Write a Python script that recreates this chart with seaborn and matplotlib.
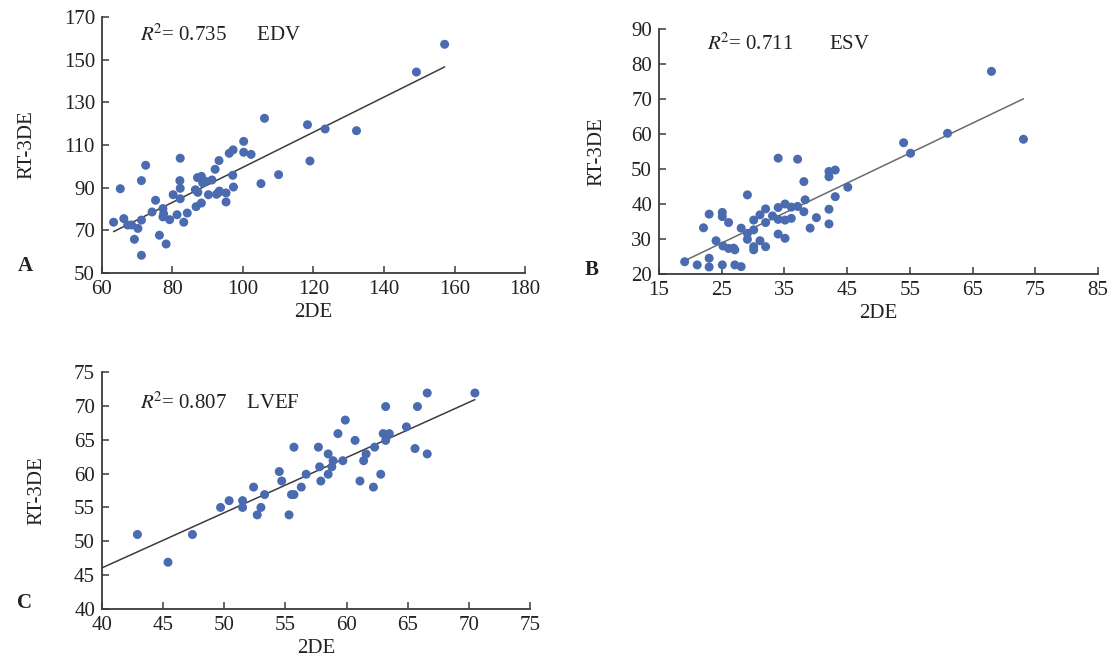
import numpy as np
import pandas as pd
import matplotlib
matplotlib.use("Agg")
import matplotlib.pyplot as plt
import seaborn as sns

# ---- Data ----
edv_2de = [63.3, 65.2, 66.2, 67.3, 68.4, 69.2, 70.2, 71.2, 71.2, 71.2, 72.4, 74.2, 75.2, 76.3,
           77.3, 77.5, 77.3, 78.2, 79.2, 80.2, 81.3, 82.2, 82.1, 82.2, 82.2, 83.2, 84.2, 86.5,
           86.7, 87.1, 87.2, 88.2, 88.2, 88.6, 89.3, 90.2, 91.2, 92.1, 92.5, 93.1, 93.2, 93.3,
           95.2, 95.2, 96.1, 97.2, 97.1, 97.3, 100.2, 100.2, 102.3, 105.1, 106.1, 110.1, 118.3,
           119.0, 123.3, 132.2, 149.2, 157.2]
edv_rt3de = [73.8, 89.5, 75.5, 72.5, 72.5, 65.8, 70.9, 58.3, 74.8, 93.3, 100.5, 78.6, 84.1, 67.7,
             80.2, 77.7, 76.3, 63.6, 75.0, 86.7, 77.3, 103.8, 93.3, 89.7, 84.8, 73.8, 78.1, 89.0,
             81.1, 94.7, 87.8, 82.8, 95.3, 92.2, 93.0, 86.7, 93.6, 98.6, 86.9, 87.8, 102.7, 88.4,
             87.5, 83.3, 106.1, 107.7, 95.8, 90.3, 111.7, 106.6, 105.6, 91.9, 122.5, 96.1, 119.5,
             102.5, 117.5, 116.7, 144.2, 157.2]

esv_2de = [19.1, 21.1, 22.1, 23.0, 23.0, 23.0, 24.1, 25.1, 25.1, 25.1, 25.2, 26.1, 26.1, 26.9,
           27.1, 27.1, 28.1, 28.1, 29.1, 29.1, 29.1, 30.1, 30.1, 30.1, 30.1, 31.1, 31.1, 32.0,
           32.0, 32.0, 33.1, 34.0, 34.0, 34.0, 34.0, 35.1, 35.1, 35.1, 36.1, 36.1, 37.1, 37.1,
           38.1, 38.1, 38.3, 39.1, 40.1, 42.1, 42.1, 42.1, 42.1, 43.1, 43.1, 45.1, 54.0, 55.1,
           61.0, 68.0, 73.1]
esv_rt3de = [23.5, 22.6, 33.2, 37.1, 24.5, 22.0, 29.5, 22.6, 37.6, 36.4, 28.0, 34.7, 27.3, 27.4,
             26.9, 22.6, 33.1, 22.1, 42.6, 31.6, 29.9, 35.4, 32.6, 27.8, 26.9, 36.9, 29.5, 38.6,
             34.7, 27.8, 36.6, 53.1, 39.0, 35.6, 31.4, 40.0, 35.4, 30.2, 39.1, 35.9, 52.8, 39.3,
             46.4, 37.8, 41.2, 33.1, 36.1, 49.3, 47.8, 38.5, 34.3, 49.7, 42.1, 44.8, 57.5, 54.5,
             60.2, 77.9, 58.5]

lvef_2de = [42.9, 45.4, 47.4, 49.7, 50.4, 51.5, 51.5, 52.4, 52.7, 53.0, 53.3, 54.5, 54.7, 55.3,
            55.5, 55.7, 55.7, 56.3, 56.7, 57.7, 57.8, 57.9, 58.5, 58.5, 58.8, 58.9, 59.3, 59.7,
            59.9, 60.7, 61.1, 61.4, 61.6, 62.2, 62.3, 62.8, 63.0, 63.2, 63.2, 63.5, 64.9, 65.6,
            65.8, 66.6, 66.6, 70.5]
lvef_rt3de = [51.0, 46.9, 51.0, 55.0, 56.0, 56.0, 55.0, 58.0, 53.9, 55.0, 56.9, 60.3, 58.9, 53.9,
              56.9, 56.9, 63.9, 58.0, 59.9, 63.9, 61.0, 58.9, 62.9, 59.9, 61.0, 61.9, 65.9, 61.9,
              67.9, 64.9, 58.9, 61.9, 62.9, 58.0, 63.9, 59.9, 65.9, 69.9, 64.9, 65.9, 66.9, 63.7,
              69.9, 71.9, 62.9, 71.9]

r2_values = ["0.735", "0.711", "0.807"]
measures = ["EDV", "ESV", "LVEF"]
panel_letters = ["A", "B", "C"]

# ---- Style ----
sns.set_style("ticks")
plt.rcParams["font.family"] = ["Liberation Serif", "DejaVu Serif"]
plt.rcParams["mathtext.fontset"] = "stix"

fig = plt.figure(figsize=(11.18, 6.61), dpi=100)

axes_rects = [
    [0.0912, 0.587, 0.3784, 0.3873],
    [0.5894, 0.5855, 0.3928, 0.3706],
    [0.0912, 0.0787, 0.3828, 0.3585],
]
xlims = [(60, 180), (15, 85), (40, 75)]
ylims = [(50, 170), (20, 90), (40, 75)]
xticks = [np.arange(60, 181, 20), np.arange(15, 86, 10), np.arange(40, 76, 5)]
yticks = [np.arange(50, 171, 20), np.arange(20, 91, 10), np.arange(40, 76, 5)]
datasets = [(edv_2de, edv_rt3de), (esv_2de, esv_rt3de), (lvef_2de, lvef_rt3de)]

point_color = "#4a6bb0"
axis_color = "#3a3a3a"
line_colors = ["#3c3c3c", "#6a6a6a", "#3c3c3c"]

letter_pos = [(18 / 1118, 1 - 266 / 661), (585 / 1118, 1 - 270 / 661), (17 / 1118, 1 - 603 / 661)]
annot_pos = [(0.09, 0.93), (0.11, 0.94), (0.09, 0.87)]
gaps = ["      ", "       ", "    "]
ylabel_pad = [20, 18, 20]

for i, rect in enumerate(axes_rects):
    ax = fig.add_axes(rect)
    x, y = datasets[i]
    df = pd.DataFrame({"2DE": x, "RT-3DE": y})
    sns.scatterplot(data=df, x="2DE", y="RT-3DE", ax=ax, color=point_color,
                    s=42, edgecolor="none", zorder=3)
    slope, intercept = np.polyfit(df["2DE"], df["RT-3DE"], 1)
    x0 = xlims[i][0] if i == 2 else df["2DE"].min()
    x1 = df["2DE"].max()
    lx = np.array([x0, x1])
    sns.lineplot(x=lx, y=slope * lx + intercept, ax=ax, color=line_colors[i], lw=1.1, zorder=2)

    ax.set_xlim(*xlims[i])
    ax.set_ylim(*ylims[i])
    ax.set_xticks(xticks[i])
    ax.set_yticks(yticks[i])
    sns.despine(ax=ax)
    for sp in ["left", "bottom"]:
        ax.spines[sp].set_color(axis_color)
        ax.spines[sp].set_linewidth(1.3)
    ax.tick_params(direction="in", length=5, width=1.1, color=axis_color,
                   labelsize=15, labelcolor="#222222", pad=5)
    ax.set_xlabel("2DE", fontsize=15, color="#222222", labelpad=3)
    ax.set_ylabel("RT-3DE", fontsize=15, color="#222222", labelpad=ylabel_pad[i])

    ax.text(annot_pos[i][0], annot_pos[i][1],
            r"$R^{\!2}$" + "= " + r2_values[i] + gaps[i] + measures[i],
            transform=ax.transAxes, fontsize=15, color="#222222", va="center", ha="left")
    fig.text(letter_pos[i][0], letter_pos[i][1], panel_letters[i], fontsize=15,
             fontweight="bold", color="#222222", va="center", ha="left")

fig.savefig("out.png", dpi=100)
